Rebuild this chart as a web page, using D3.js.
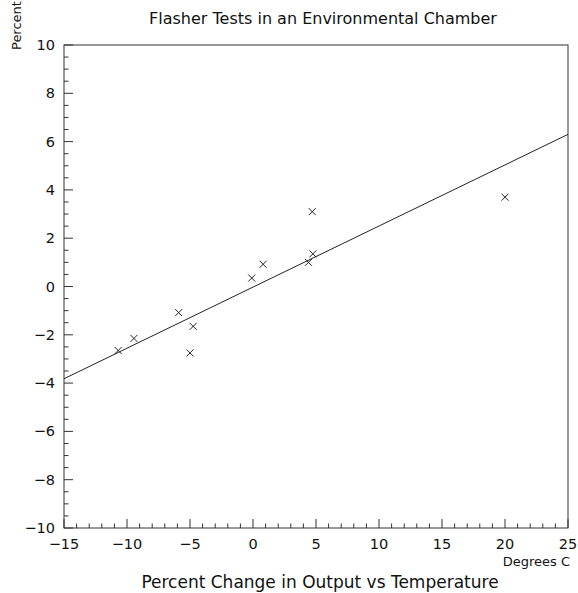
<!DOCTYPE html>
<html>
<head>
<meta charset="utf-8">
<script src="https://cdn.jsdelivr.net/npm/d3@7/dist/d3.min.js"></script>
<style>
  html, body { margin: 0; padding: 0; background: #fff; }
  svg text { font-family: "DejaVu Sans", "Liberation Sans", sans-serif; fill: #111; }
</style>
</head>
<body>
<svg id="chart" width="578" height="593"></svg>
<script>
// ---- data ----
const tempC = [-10.7, -9.45, -5.9, -4.75, -5.0, -0.1, 0.8, 4.4, 4.75, 4.7, 20.0];
const pctChange = [-2.65, -2.15, -1.08, -1.65, -2.75, 0.35, 0.92, 1.0, 1.35, 3.1, 3.7];
const fitX = [-15, 25];
const fitY = [-3.82, 6.3];
const xTicks = [-15, -10, -5, 0, 5, 10, 15, 20, 25];
const yTicks = [-10, -8, -6, -4, -2, 0, 2, 4, 6, 8, 10];
const titleText = "Flasher Tests in an Environmental Chamber";
const xTitle = "Percent Change in Output vs Temperature";
const xUnit = "Degrees C";
const yUnit = "Percent";

// ---- layout ----
const L = 64, R = 568, T = 45, B = 528;
const svg = d3.select("#chart");
const x = d3.scaleLinear().domain([-15, 25]).range([L, R]);
const y = d3.scaleLinear().domain([-10, 10]).range([B, T]);
const fmt = d => (d < 0 ? "\u2212" + Math.abs(d) : String(d));

// frame
svg.append("rect").attr("x", L).attr("y", T).attr("width", R - L).attr("height", B - T)
  .attr("fill", "none").attr("stroke", "#333").attr("stroke-width", 1);

// x axis minor/major ticks (inside, upward)
const xMinor = d3.range(-15, 25.001, 1);
svg.append("g").selectAll("line").data(xMinor).join("line")
  .attr("x1", d => x(d)).attr("x2", d => x(d))
  .attr("y1", B).attr("y2", d => B - (d % 5 === 0 ? 9 : 4.5))
  .attr("stroke", "#333").attr("stroke-width", 1);
// y axis ticks (inside, rightward)
const yMinor = d3.range(-10, 10.001, 0.5);
svg.append("g").selectAll("line").data(yMinor).join("line")
  .attr("x1", L).attr("x2", d => L + (Math.abs(d % 2) < 1e-9 ? 9 : 4.5))
  .attr("y1", d => y(d)).attr("y2", d => y(d))
  .attr("stroke", "#333").attr("stroke-width", 1);

// x tick labels
svg.append("g").selectAll("text").data(xTicks).join("text")
  .attr("x", d => x(d)).attr("y", B + 21)
  .attr("text-anchor", "middle").attr("font-size", 14.5).text(fmt);
// y tick labels
svg.append("g").selectAll("text").data(yTicks).join("text")
  .attr("x", L - 9).attr("y", d => y(d) + 5)
  .attr("text-anchor", "end").attr("font-size", 14.5).text(fmt);

// fit line
svg.append("line")
  .attr("x1", x(fitX[0])).attr("y1", y(fitY[0]))
  .attr("x2", x(fitX[1])).attr("y2", y(fitY[1]))
  .attr("stroke", "#222").attr("stroke-width", 1);

// points as x markers
const pts = tempC.map((t, i) => ({ t, p: pctChange[i] }));
const s = 3.5;
const g = svg.append("g");
pts.forEach(d => {
  const cx = x(d.t), cy = y(d.p);
  g.append("path")
    .attr("d", `M${cx - s},${cy - s}L${cx + s},${cy + s}M${cx - s},${cy + s}L${cx + s},${cy - s}`)
    .attr("stroke", "#222").attr("stroke-width", 1).attr("fill", "none");
});

// titles
svg.append("text").attr("x", 323).attr("y", 24).attr("text-anchor", "middle")
  .attr("font-size", 16).text(titleText);
svg.append("text").attr("x", 320).attr("y", 588).attr("text-anchor", "middle")
  .attr("font-size", 17).text(xTitle);
svg.append("text").attr("x", 570).attr("y", 566).attr("text-anchor", "end")
  .attr("font-size", 13).text(xUnit);
svg.append("text").attr("transform", "translate(21,50) rotate(-90)")
  .attr("text-anchor", "start").attr("font-size", 13).text(yUnit);
</script>
</body>
</html>
